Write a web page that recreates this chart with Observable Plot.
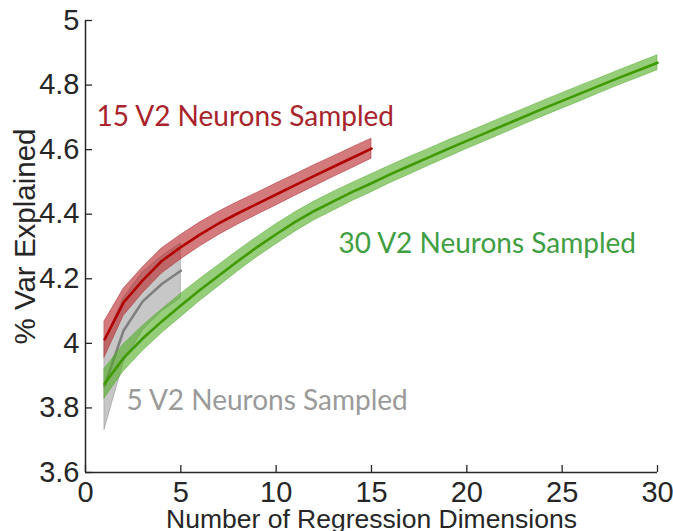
<!DOCTYPE html>
<html>
<head>
<meta charset="utf-8">
<script src="https://cdn.jsdelivr.net/npm/d3@7"></script>
<script src="https://cdn.jsdelivr.net/npm/@observablehq/plot@0.6"></script>
<style>
  html, body { margin: 0; padding: 0; background: #fff; }
</style>
</head>
<body>
<div id="chart"></div>
<script>
// Number of regression dimensions (x) for each sample size
const dims5  = [1, 2, 3, 4, 5];
const dims15 = [1, 2, 3, 4, 5, 6, 7, 8, 9, 10, 11, 12, 13, 14, 15];
const dims30 = [1, 2, 3, 4, 5, 6, 7, 8, 9, 10, 11, 12, 13, 14, 15,
                16, 17, 18, 19, 20, 21, 22, 23, 24, 25, 26, 27, 28, 29, 30];

// Mean % variance explained and half-width of the error band
const mean5  = [3.868, 4.040, 4.130, 4.184, 4.225];
const err5   = [0.135, 0.100, 0.090, 0.085, 0.085];

const mean15 = [4.012, 4.127, 4.195, 4.255, 4.298, 4.337, 4.372, 4.403, 4.432, 4.461,
                4.490, 4.519, 4.547, 4.575, 4.603];
const err15  = [0.056, 0.042, 0.040, 0.039, 0.038, 0.037, 0.036, 0.035, 0.034, 0.034,
                0.033, 0.033, 0.032, 0.032, 0.031];

const mean30 = [3.875, 3.955, 4.015, 4.068, 4.117, 4.165, 4.210, 4.255, 4.298, 4.338,
                4.376, 4.410, 4.440, 4.469, 4.496, 4.524, 4.550, 4.576, 4.602, 4.627,
                4.652, 4.677, 4.702, 4.727, 4.751, 4.775, 4.799, 4.823, 4.846, 4.869];
const err30  = [0.046, 0.042, 0.039, 0.037, 0.036, 0.034, 0.033, 0.032, 0.031, 0.031,
                0.030, 0.029, 0.029, 0.028, 0.028, 0.027, 0.027, 0.026, 0.026, 0.025,
                0.025, 0.025, 0.024, 0.024, 0.024, 0.024, 0.023, 0.023, 0.023, 0.023];

// Axis ticks
const xTicks = [0, 5, 10, 15, 20, 25, 30];
const yTicks = [3.6, 3.8, 4, 4.2, 4.4, 4.6, 4.8, 5];

// Series labels
const seriesLabels = ["5 V2 Neurons Sampled", "15 V2 Neurons Sampled", "30 V2 Neurons Sampled"];

const toRows = (dims, mean, err) =>
  dims.map((d, i) => ({dim: d, mean: mean[i], lo: mean[i] - err[i], hi: mean[i] + err[i]}));

const rows5 = toRows(dims5, mean5, err5);
const rows15 = toRows(dims15, mean15, err15);
const rows30 = toRows(dims30, mean30, err30);

const W = 673, H = 531;
const M = {top: 20, right: 16, bottom: 59, left: 85};
const xDomain = [0, 30], yDomain = [3.6, 5];
const tickLen = 7; // inward tick length in pixels
const xTickUnits = tickLen * (xDomain[1] - xDomain[0]) / (W - M.left - M.right);
const yTickUnits = tickLen * (yDomain[1] - yDomain[0]) / (H - M.top - M.bottom);

const axisColor = "#262626";
const sans = "'Liberation Sans', Arial, Helvetica, sans-serif";
const human = "Lato, 'Open Sans', sans-serif";

const band = (rows, fill, stroke, opacity) =>
  Plot.areaY(rows, {x: "dim", y1: "lo", y2: "hi", fill, fillOpacity: opacity,
                    stroke, strokeOpacity: 0.7, strokeWidth: 0.8});
const line = (rows, stroke) =>
  Plot.lineY(rows, {x: "dim", y: "mean", stroke, strokeWidth: 2.6});

const chart = Plot.plot({
  width: W,
  height: H,
  marginTop: M.top,
  marginRight: M.right,
  marginBottom: M.bottom,
  marginLeft: M.left,
  x: {domain: xDomain},
  y: {domain: yDomain},
  style: {fontFamily: sans, background: "#fff", overflow: "visible"},
  marks: [
    // error bands and means
    band(rows5, "#8f8f8f", "#8a8a8a", 0.5),
    line(rows5, "#7f7f7f"),
    band(rows30, "#4eab22", "#5fae3a", 0.6),
    line(rows30, "#3f9a00"),
    band(rows15, "#b8282d", "#b03035", 0.62),
    line(rows15, "#b00000"),

    // axes lines
    Plot.ruleX([xDomain[0]], {stroke: axisColor, strokeWidth: 1.5}),
    Plot.ruleY([yDomain[0]], {stroke: axisColor, strokeWidth: 1.5}),
    // inward ticks
    Plot.ruleY(yTicks, {y: d => d, x1: xDomain[0], x2: xDomain[0] + xTickUnits, stroke: axisColor, strokeWidth: 1.3}),
    Plot.ruleX(xTicks, {x: d => d, y1: yDomain[0], y2: yDomain[0] + yTickUnits, stroke: axisColor, strokeWidth: 1.3}),

    // tick labels
    Plot.axisX({ticks: xTicks, tickSize: 0, tickPadding: 9, tickFormat: d => String(d),
                fontSize: 29, color: axisColor, label: null}),
    Plot.axisY({ticks: yTicks, tickSize: 0, tickPadding: 6, tickFormat: d => String(d),
                fontSize: 29, color: axisColor, label: null}),

    // axis titles
    Plot.text(["Number of Regression Dimensions"], {
      frameAnchor: "bottom", dy: 55, lineAnchor: "bottom", textAnchor: "middle",
      fontSize: 26.5, fill: axisColor
    }),
    Plot.text(["% Var Explained"], {
      frameAnchor: "left", dx: -51, dy: -10, rotate: -90, lineAnchor: "bottom", textAnchor: "middle",
      fontSize: 29.5, fill: axisColor
    }),

    // series labels
    Plot.text([seriesLabels[1]], {x: 0.58, y: 4.672, textAnchor: "start", lineAnchor: "bottom",
      fontFamily: human, fontSize: 28, fill: "#a8232b"}),
    Plot.text([seriesLabels[2]], {x: 13.27, y: 4.281, textAnchor: "start", lineAnchor: "bottom",
      fontFamily: human, fontSize: 28, fill: "#3f9e42"}),
    Plot.text([seriesLabels[0]], {x: 2.15, y: 3.795, textAnchor: "start", lineAnchor: "bottom",
      fontFamily: human, fontSize: 28, fill: "#9a9a9a"})
  ]
});

document.getElementById("chart").appendChild(chart);
</script>
</body>
</html>
